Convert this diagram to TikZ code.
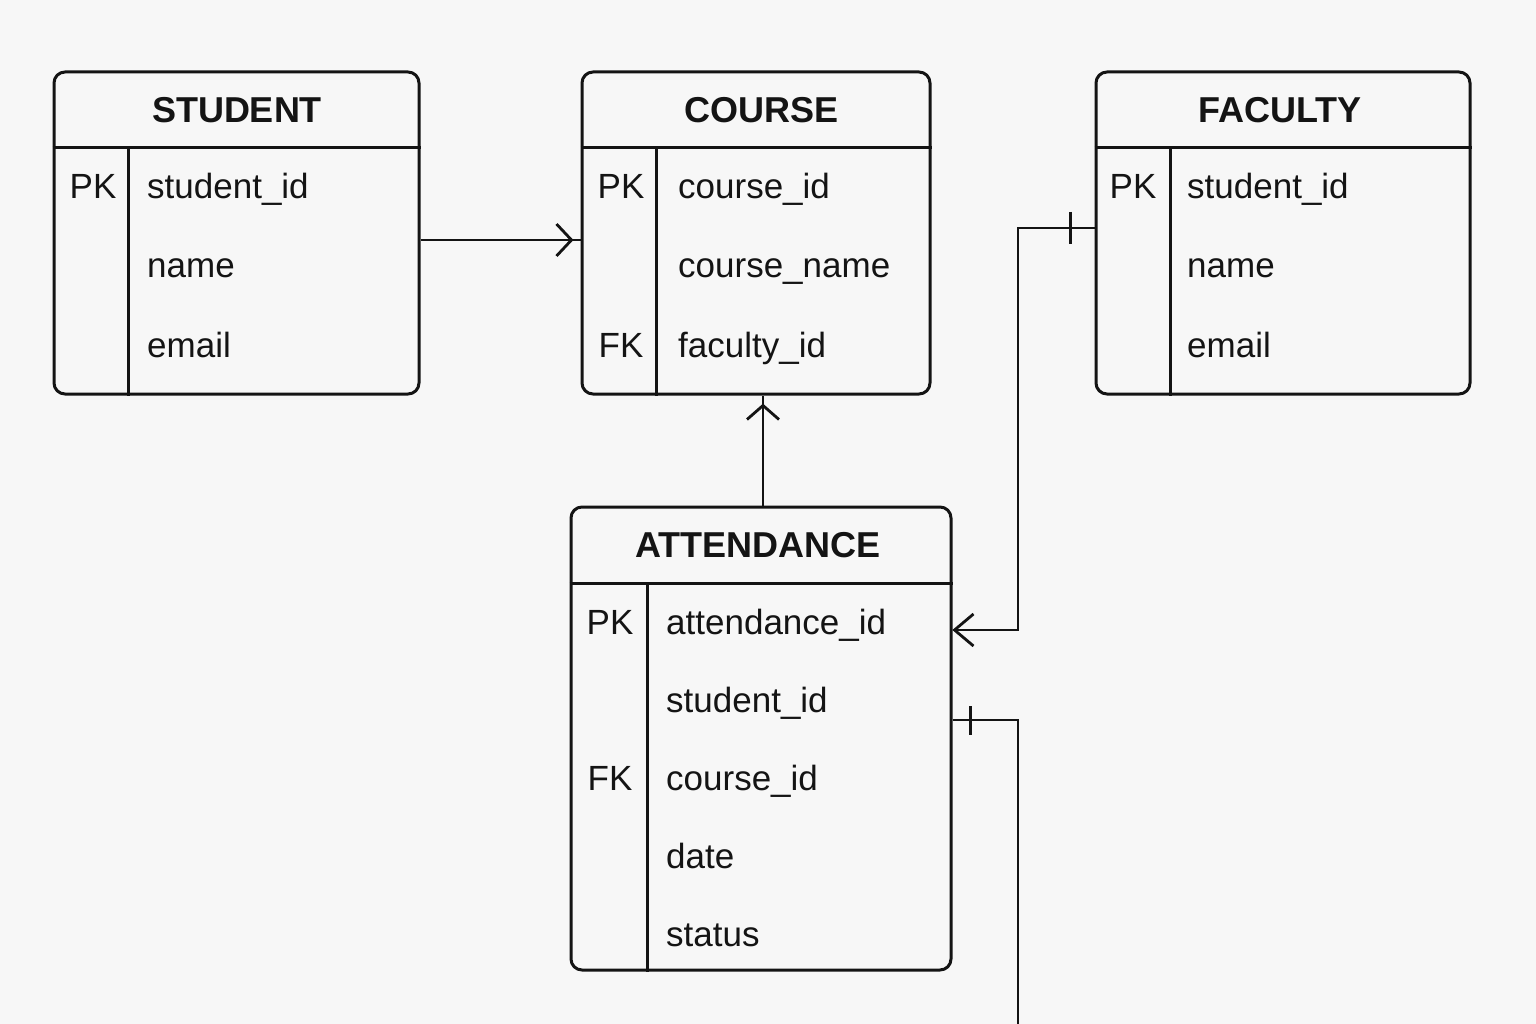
\documentclass[tikz,border=0pt]{standalone}
\usepackage{fontspec}
\setmainfont{Liberation Sans}
\usetikzlibrary{calc}
\definecolor{bg}{HTML}{F7F7F7}
\definecolor{ink}{HTML}{141414}
\begin{document}
\begin{tikzpicture}[x=1pt,y=-1pt,
 tbl/.style={draw=ink, line width=3pt, rounded corners=11pt, inner sep=0pt},
 ttl/.style={font=\fontsize{36}{40}\selectfont\bfseries, text=ink, inner sep=0pt},
 keyt/.style={font=\fontsize{35}{40}\selectfont, text=ink, inner sep=0pt, anchor=base},
 fld/.style={font=\fontsize{35}{40}\selectfont, text=ink, inner sep=0pt, anchor=base west},
 sepl/.style={draw=ink, line width=3pt},
 conn/.style={draw=ink, line width=2.8pt},
]
\fill[bg] (0,0) rectangle (1536,1024);
\useasboundingbox (0,0) rectangle (1536,1024);

% STUDENT
\node[tbl, minimum width=365pt, minimum height=322pt] (student) at (236.5,233) {};
\draw[sepl] (student.west |- 0,148) -- (student.east |- 0,148);
\draw[sepl] (128,148) -- (student.south -| 128,0);
\node[ttl] (studentT) at (237,110) {STUDENT};
\node[keyt] (sPK) at (93,199) {PK};
\node[fld] (s1) at (147,199) {student\_id};
\node[fld] (s2) at (147,278) {name};
\node[fld] (s3) at (147,357) {email};

% COURSE
\node[tbl, minimum width=348pt, minimum height=322pt] (course) at (756,233) {};
\draw[sepl] (course.west |- 0,148) -- (course.east |- 0,148);
\draw[sepl] (656,148) -- (course.south -| 656,0);
\node[ttl] (courseT) at (762,110) {COURSE};
\node[keyt] (cPK) at (621,199) {PK};
\node[keyt] (cFK) at (621,357) {FK};
\node[fld] (c1) at (678,199) {course\_id};
\node[fld] (c2) at (678,278) {course\_name};
\node[fld] (c3) at (678,357) {faculty\_id};

% FACULTY
\node[tbl, minimum width=374pt, minimum height=322pt] (faculty) at (1283,233) {};
\draw[sepl] (faculty.west |- 0,148) -- (faculty.east |- 0,148);
\draw[sepl] (1170,148) -- (faculty.south -| 1170,0);
\node[ttl] (facultyT) at (1280,110) {FACULTY};
\node[keyt] (fPK) at (1133,199) {PK};
\node[fld] (f1) at (1187,199) {student\_id};
\node[fld] (f2) at (1187,278) {name};
\node[fld] (f3) at (1187,357) {email};

% ATTENDANCE
\node[tbl, minimum width=380pt, minimum height=463pt] (att) at (761,738.5) {};
\draw[sepl] (att.west |- 0,583) -- (att.east |- 0,583);
\draw[sepl] (647,583) -- (att.south -| 647,0);
\node[ttl] (attT) at (758,545) {ATTENDANCE};
\node[keyt] (aPK) at (610,634) {PK};
\node[keyt] (aFK) at (610,790) {FK};
\node[fld] (a1) at (666,634) {attendance\_id};
\node[fld] (a2) at (666,712) {student\_id};
\node[fld] (a3) at (666,790) {course\_id};
\node[fld] (a4) at (666,868) {date};
\node[fld] (a5) at (666,946) {status};

% connectors
\coordinate (sc1) at (student.east |- 0,240);
\coordinate (sc2) at (course.west |- 0,240);
\draw[conn] (sc1) -- (sc2);
\draw[conn] ($(sc2)+(-24,-16)$) -- ($(sc2)+(-9,0)$) -- ($(sc2)+(-24,16)$);

\coordinate (ac1) at (att.north -| 763,0);
\coordinate (ac2) at (course.south -| 763,0);
\draw[conn] (ac1) -- (ac2);
\draw[conn] ($(ac2)+(-16,24)$) -- ($(ac2)+(0,10)$) -- ($(ac2)+(16,24)$);

\coordinate (fa1) at (faculty.west |- 0,228);
\coordinate (fa2) at (att.east |- 0,630);
\draw[conn] (fa1) -| (1018,630) -- (fa2);
\draw[conn] ($(fa1)+(-24,-16)$) -- ($(fa1)+(-24,16)$);
\draw[conn] ($(fa2)+(21,-16)$) -- ($(fa2)+(2,0)$) -- ($(fa2)+(21,16)$);

\coordinate (as1) at (att.east |- 0,720);
\coordinate (as2) at (1018,1024);
\draw[conn] (as1) -| (as2);
\draw[conn] ($(as1)+(18,-14)$) -- ($(as1)+(18,15)$);
\end{tikzpicture}
\end{document}
